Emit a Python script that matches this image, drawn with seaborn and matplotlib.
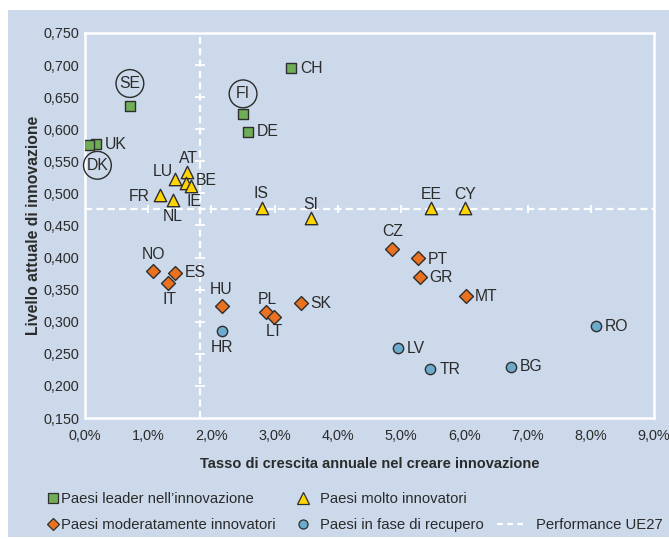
import matplotlib
matplotlib.use("Agg")
import matplotlib.pyplot as plt
from matplotlib.lines import Line2D
from matplotlib.patches import Rectangle
from matplotlib.transforms import offset_copy
import seaborn as sns
import pandas as pd

# ---- data ----
countries = ["SE", "FI", "DE", "CH", "UK", "DK",
             "AT", "LU", "BE", "IE", "FR", "NL", "IS", "SI", "EE", "CY",
             "CZ", "PT", "GR", "MT", "NO", "ES", "IT", "HU", "PL", "LT", "SK",
             "HR", "RO", "LV", "TR", "BG"]
growth = [0.71, 2.50, 2.58, 3.26, 0.17, 0.07,
          1.61, 1.43, 1.60, 1.67, 1.18, 1.39, 2.80, 3.57, 5.47, 6.01,
          4.86, 5.26, 5.30, 6.02, 1.07, 1.43, 1.32, 2.16, 2.87, 2.99, 3.42,
          2.16, 8.08, 4.95, 5.46, 6.74]
level = [0.637, 0.624, 0.596, 0.695, 0.577, 0.575,
         0.533, 0.522, 0.516, 0.511, 0.498, 0.489, 0.478, 0.461, 0.477, 0.477,
         0.414, 0.399, 0.369, 0.340, 0.379, 0.376, 0.361, 0.325, 0.315, 0.308, 0.329,
         0.285, 0.293, 0.259, 0.226, 0.230]
group_names = ["Paesi leader nell\u2019innovazione", "Paesi molto innovatori",
               "Paesi moderatamente innovatori", "Paesi in fase di recupero"]
group = [group_names[0]] * 6 + [group_names[1]] * 10 + [group_names[2]] * 11 + [group_names[3]] * 5
eu_growth = 1.82
eu_level = 0.475
circled = ["SE", "FI", "DK"]
x_ticks = [0, 1, 2, 3, 4, 5, 6, 7, 8, 9]
y_ticks = [0.150, 0.200, 0.250, 0.300, 0.350, 0.400, 0.450, 0.500, 0.550, 0.600, 0.650, 0.700, 0.750]
x_title = "Tasso di crescita annuale nel creare innovazione"
y_title = "Livello attuale di innovazione"
eu_label = "Performance UE27"

# ---- style ----
BG = "#cbd9ea"
colors = dict(zip(group_names, ["#70ad57", "#ffd400", "#ea7120", "#6eaacb"]))
markers = dict(zip(group_names, ["s", "^", "D", "o"]))
sizes = dict(zip(group_names, [55, 80, 50, 55]))
TXT = "#2b2b2b"
EDGE = "#2e2e2e"

sns.set_theme(style="white")
plt.rcParams["font.family"] = ["Liberation Sans", "DejaVu Sans"]

df = pd.DataFrame({"country": countries, "growth": growth, "level": level, "group": group})

W, H = 669, 539
fig = plt.figure(figsize=(W / 100, H / 100), dpi=100, facecolor="white")
fig.patches.append(Rectangle((8 / W, 2 / H), 1 - 8 / W, 527 / H, transform=fig.transFigure,
                             facecolor=BG, edgecolor="none", zorder=-10))
ax = fig.add_axes([85 / W, 1 - 418 / H, (654 - 85) / W, (418 - 33) / H])
ax.set_zorder(1)
ax.set_facecolor(BG)

# UE27 reference lines
ax.axvline(eu_growth, color="white", lw=1.6, dashes=(3.2, 1.9), zorder=1)
ax.axhline(eu_level, color="white", lw=1.6, dashes=(3.2, 1.9), zorder=1)
ax.scatter([eu_growth] * len(y_ticks[1:-1]), y_ticks[1:-1], marker="_", s=55, color="white", lw=1.3, zorder=1)
ax.scatter(x_ticks[1:-1], [eu_level] * len(x_ticks[1:-1]), marker="|", s=40, color="white", lw=1.3, zorder=1)

for g in group_names:
    sub = df[df.group == g]
    sns.scatterplot(data=sub, x="growth", y="level", marker=markers[g], s=sizes[g],
                    color=colors[g], edgecolor=EDGE, linewidth=1.0, ax=ax,
                    legend=False, zorder=3)

# label placement (offsets in pixels)
R = (9, 0, "left", "center")
place = {
    "CH": R, "UK": R, "DE": R, "PT": (10, -1, "left", "center"), "GR": R, "MT": R,
    "RO": R, "LV": R, "TR": R, "BG": R, "ES": R, "SK": R,
    "BE": (10, 3, "left", "center"),
    "AT": (2, 14, "center", "center"), "LU": (-13, 8, "center", "center"),
    "IE": (3, -15, "center", "center"), "FR": (-10, -2, "right", "center"),
    "NL": (0, -16, "center", "center"), "IS": (-1, 14, "center", "center"),
    "SI": (0, 14, "center", "center"), "EE": (0, 14, "center", "center"),
    "CY": (0, 14, "center", "center"), "CZ": (0, 17, "center", "center"),
    "NO": (1, 17, "center", "center"), "IT": (1, -17, "center", "center"),
    "HU": (0, 16, "center", "center"), "HR": (0, -16, "center", "center"),
    "PL": (1, 13, "center", "center"), "LT": (0, -15, "center", "center"),
    "SE": (0, 22, "center", "center"), "FI": (0, 20, "center", "center"),
    "DK": (8, -20, "center", "center"),
}
for c, x, y in zip(countries, growth, level):
    dx, dy, ha, va = place[c]
    ax.annotate(c, (x, y), xytext=(dx, dy), textcoords="offset pixels", ha=ha, va=va,
                fontsize=11.3, color=TXT, zorder=4)
    if c in circled:
        tr = offset_copy(ax.transData, fig=fig, x=dx, y=dy, units="dots")
        ax.scatter([x], [y], transform=tr, s=400, facecolor="none", edgecolor=TXT,
                   linewidth=1.0, zorder=4, clip_on=False)

ax.set_xlim(x_ticks[0], x_ticks[-1])
ax.set_ylim(y_ticks[0], y_ticks[-1])
ax.set_xticks(x_ticks)
ax.set_yticks(y_ticks)
ax.set_xticklabels([f"{v:.1f}%".replace(".", ",") for v in x_ticks], fontsize=10.4, color=TXT)
ax.set_yticklabels([f"{v:.3f}".replace(".", ",") for v in y_ticks], fontsize=10.4, color=TXT)
ax.tick_params(axis="x", length=0, pad=8)
ax.tick_params(axis="y", length=0, pad=4)
for s in ax.spines.values():
    s.set_color("white")
    s.set_linewidth(1.8)
ax.set_xlabel(x_title, fontsize=10.5, fontweight="bold", color=TXT, labelpad=10)
ax.set_ylabel(y_title, fontsize=11.3, fontweight="bold", color=TXT, labelpad=2)

# legend: three columns placed individually
def mk(g, ms):
    return Line2D([], [], ls="none", marker=markers[g], markersize=ms, markerfacecolor=colors[g],
                  markeredgecolor=EDGE, markeredgewidth=0.9, label=g)

blank = Line2D([], [], alpha=0, label=" ")
eu_h = Line2D([], [], color="white", lw=1.6, dashes=(2.6, 2.0), label=eu_label)
cols = [
    ([mk(group_names[0], 6.5), mk(group_names[2], 6.0)], 47, 0.8, 0.15),
    ([mk(group_names[1], 8.5), mk(group_names[3], 6.5)], 297, 0.8, 0.75),
    ([blank, eu_h], 497, 1.75, 0.85),
]
for hs, x0, hl, hp in cols:
    lg = fig.legend(handles=hs, labels=[h.get_label() for h in hs], loc="center left",
                    bbox_to_anchor=(x0 / W, 1 - 512 / H), frameon=False, fontsize=10.7,
                    handlelength=hl, handletextpad=hp, labelspacing=0.78,
                    borderpad=0, borderaxespad=0)
    for t in lg.get_texts():
        t.set_color(TXT)

fig.savefig("out.png", dpi=100, facecolor="white")
